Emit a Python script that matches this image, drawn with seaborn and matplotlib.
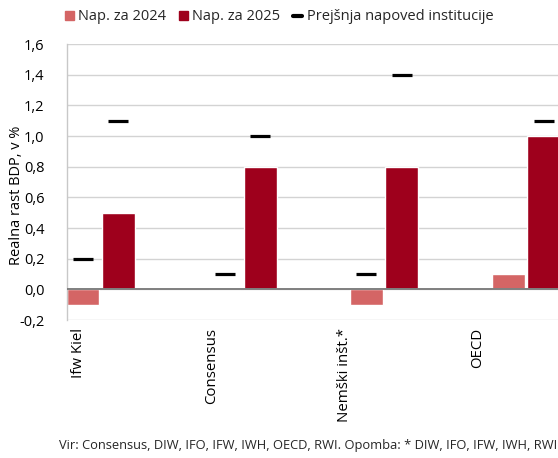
import matplotlib
matplotlib.use("Agg")
import matplotlib.pyplot as plt
import seaborn as sns
import numpy as np
import pandas as pd
from matplotlib.patches import Patch
from matplotlib.lines import Line2D
from matplotlib.ticker import FuncFormatter

institutions = ["Ifw Kiel", "Consensus", "Nemški inšt.*", "OECD"]
years = ["Nap. za 2024", "Nap. za 2025"]
forecast_2024 = [-0.1, 0.0, -0.1, 0.1]
forecast_2025 = [0.5, 0.8, 0.8, 1.0]
previous_2024 = [0.2, 0.1, 0.1, np.nan]
previous_2025 = [1.1, 1.0, 1.4, 1.1]
prev_label = "Prejšnja napoved institucije"
source = "Vir: Consensus, DIW, IFO, IFW, IWH, OECD, RWI. Opomba: * DIW, IFO, IFW, IWH, RWI"

c24 = "#d46565"
c25 = "#9e001c"

bars = pd.DataFrame({
    "inst": institutions * 2,
    "year": [years[0]] * 4 + [years[1]] * 4,
    "value": forecast_2024 + forecast_2025,
})
prev = pd.DataFrame({
    "inst": institutions * 2,
    "year": [years[0]] * 4 + [years[1]] * 4,
    "value": previous_2024 + previous_2025,
})

sns.set_theme(style="white")
plt.rcParams["font.family"] = ["Open Sans", "DejaVu Sans"]

fig = plt.figure(figsize=(5.58, 4.58), dpi=100)
ax = fig.add_axes([0.1195, 0.3013, 0.8805, 0.6026])
ax.set_axisbelow(True)

sns.barplot(data=bars, x="inst", y="value", hue="year", order=institutions,
            hue_order=years, palette=[c24, c25], saturation=1, width=0.5,
            gap=0.07, legend=False, ax=ax)
sns.pointplot(data=prev, x="inst", y="value", hue="year", order=institutions,
              hue_order=years, palette=["black", "black"], dodge=0.25,
              markers="_", linestyles="none", errorbar=None, legend=False,
              markersize=14, markeredgewidth=2.3, ax=ax)

ax.set_ylim(-0.2, 1.6)
ax.set_yticks(np.arange(-0.2, 1.61, 0.2))
ax.yaxis.set_major_formatter(FuncFormatter(lambda v, p: f"{round(v, 1) + 0:.1f}".replace(".", ",")))
ax.set_xlim(-0.24, 3.227)
ax.set_xticks([-0.16, 0.78, 1.72, 2.66])
ax.set_xticklabels(institutions, rotation=90, va="top", ha="center")

ax.yaxis.grid(True, color="#d3d3d3", linewidth=1)
ax.axhline(0, color="#7f7f7f", linewidth=1.4, zorder=3)
for s in ["top", "right", "bottom"]:
    ax.spines[s].set_visible(False)
ax.spines["left"].set_color("#c8c8c8")
ax.spines["left"].set_linewidth(1)
ax.tick_params(axis="y", length=0, pad=16, labelsize=10.5, colors="black")
ax.tick_params(axis="x", length=0, pad=6, labelsize=10.8, colors="black")

ax.set_xlabel("")
ax.set_ylabel("Realna rast BDP, v %", fontsize=10.5, color="black")
ax.yaxis.set_label_coords(-0.087, 0.453)

handles = [Patch(color=c24), Patch(color=c25),
           Line2D([], [], color="black", linewidth=3)]
fig.legend(handles, years + [prev_label], loc="center",
           bbox_to_anchor=(0.5, 0.963), ncol=3, frameon=False,
           fontsize=10.5, handlelength=0.6, handleheight=0.6,
           handletextpad=0.3, columnspacing=0.9)

fig.text(0.999, 1 - 446 / 458, source, ha="right", va="center", fontsize=9.3)

fig.savefig("out.png", dpi=100)
